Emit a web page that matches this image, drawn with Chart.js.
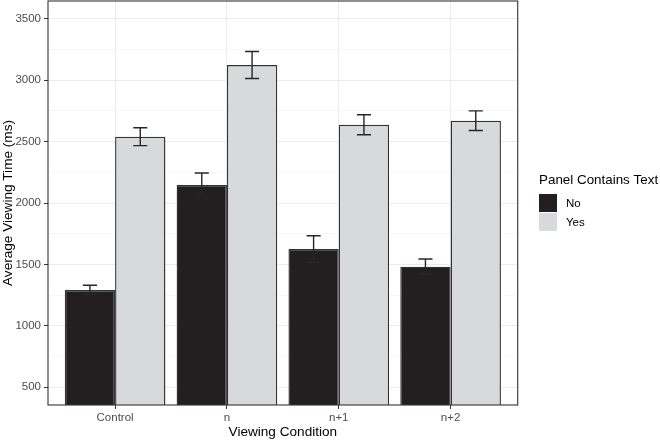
<!DOCTYPE html>
<html>
<head>
<meta charset="utf-8">
<script src="https://cdn.jsdelivr.net/npm/chart.js@4/dist/chart.umd.min.js"></script>
<style>
  html, body { margin: 0; padding: 0; background: #ffffff; }
  #wrap { width: 660px; height: 444px; position: relative; }
</style>
</head>
<body>
<div id="wrap"><canvas id="c" width="660" height="444"></canvas></div>
<script>
// ---- data ----
const categories = ['Control', 'n', 'n+1', 'n+2'];
const seriesNames = ['No', 'Yes'];
const noValues  = [1292, 2147, 1626, 1482];
const noErrors  = [38, 97, 108, 62];
const yesValues = [2540, 3123, 2637, 2670];
const yesErrors = [73, 110, 81, 80];
const yMajorTicks = [500, 1000, 1500, 2000, 2500, 3000, 3500];
const yMinorTicks = [750, 1250, 1750, 2250, 2750, 3250];
const legendTitle = 'Panel Contains Text';
const xTitle = 'Viewing Condition';
const yTitle = 'Average Viewing Time (ms)';

const FONT = "'Liberation Sans', Arial, Helvetica, sans-serif";
const noColor = '#231f20';
const yesColor = '#d8d9db';
const errors = [noErrors, yesErrors];

const errorBarPlugin = {
  id: 'errorBars',
  afterDatasetsDraw(chart) {
    const ctx = chart.ctx;
    const y = chart.scales.y;
    const area = chart.chartArea;
    ctx.save();
    ctx.beginPath();
    ctx.rect(area.left, area.top, area.right - area.left, area.bottom - area.top);
    ctx.clip();
    ctx.strokeStyle = '#262626';
    ctx.lineWidth = 1.4;
    chart.data.datasets.forEach((ds, di) => {
      const meta = chart.getDatasetMeta(di);
      meta.data.forEach((bar, i) => {
        const v = ds.data[i].y;
        const e = errors[di][i];
        const x = bar.x;
        const yt = y.getPixelForValue(v + e);
        const yb = y.getPixelForValue(v - e);
        const half = bar.width * 0.14;
        ctx.beginPath();
        ctx.moveTo(x, yt); ctx.lineTo(x, yb);
        ctx.moveTo(x - half, yt); ctx.lineTo(x + half, yt);
        ctx.moveTo(x - half, yb); ctx.lineTo(x + half, yb);
        ctx.stroke();
      });
    });
    ctx.restore();
  }
};

const panelPlugin = {
  id: 'panel',
  afterDraw(chart) {
    const ctx = chart.ctx;
    const a = chart.chartArea;
    ctx.save();
    ctx.strokeStyle = '#333333';
    ctx.lineWidth = 1.1;
    ctx.strokeRect(a.left, a.top, a.right - a.left, a.bottom - a.top);

    // legend
    const lx = 539;
    ctx.fillStyle = '#000000';
    ctx.font = '13.4px ' + FONT;
    ctx.textAlign = 'left';
    ctx.textBaseline = 'middle';
    ctx.fillText(legendTitle, lx, 180);
    const fills = [noColor, yesColor];
    seriesNames.forEach((name, i) => {
      const top = 194 + i * 19;
      ctx.fillStyle = fills[i];
      ctx.fillRect(lx, top, 18, 18);
      ctx.fillStyle = '#000000';
      ctx.font = '11.5px ' + FONT;
      ctx.fillText(name, 566, top + 9.5);
    });
    ctx.restore();
  }
};

new Chart(document.getElementById('c'), {
  type: 'bar',
  data: {
    datasets: [
      {
        label: seriesNames[0],
        data: noValues.map((v, i) => ({ x: i, y: v })),
        backgroundColor: noColor,
        borderColor: '#333333',
        borderWidth: 1.4
      },
      {
        label: seriesNames[1],
        data: yesValues.map((v, i) => ({ x: i, y: v })),
        backgroundColor: yesColor,
        borderColor: '#333333',
        borderWidth: 1.4
      }
    ]
  },
  plugins: [errorBarPlugin, panelPlugin],
  options: {
    responsive: false,
    animation: false,
    events: [],
    layout: { padding: { top: 1, right: 142.3, left: 0, bottom: 0 } },
    datasets: { bar: { categoryPercentage: 0.9, barPercentage: 1.0 } },
    plugins: { legend: { display: false }, tooltip: { enabled: false } },
    scales: {
      x: {
        type: 'linear',
        min: -0.6,
        max: 3.6,
        offset: false,
        afterBuildTicks(scale) { scale.ticks = categories.map((c, i) => ({ value: i })); },
        afterFit(scale) { scale.height = 39; scale.paddingLeft = 0; scale.paddingRight = 0; },
        ticks: {
          callback: (v) => categories[v] !== undefined ? categories[v] : '',
          color: '#4d4d4d',
          font: { family: FONT, size: 11.5 },
          padding: 2,
          maxRotation: 0,
          autoSkip: false
        },
        grid: {
          offset: false,
          color: '#ebebeb',
          lineWidth: 1,
          tickLength: 4,
          tickColor: '#333333',
          tickWidth: 1
        },
        border: { display: false },
        title: {
          display: true,
          text: xTitle,
          color: '#000000',
          font: { family: FONT, size: 13.6, lineHeight: 1.2 },
          padding: { top: 0, bottom: 3.2 }
        }
      },
      y: {
        type: 'linear',
        min: 356,
        max: 3644,
        afterBuildTicks(scale) {
          scale.ticks = yMajorTicks.concat(yMinorTicks).sort((a, b) => a - b).map(v => ({ value: v }));
        },
        afterFit(scale) { scale.width = 48; scale.paddingTop = 0; scale.paddingBottom = 0; },
        ticks: {
          callback: (v) => yMajorTicks.includes(v) ? String(v) : '',
          color: '#4d4d4d',
          font: { family: FONT, size: 11.5 },
          padding: 3,
          autoSkip: false
        },
        grid: {
          color: (c) => (c.tick && yMajorTicks.includes(c.tick.value)) ? '#ebebeb' : '#f4f4f4',
          lineWidth: (c) => (c.tick && yMajorTicks.includes(c.tick.value)) ? 1 : 0.7,
          tickLength: 4,
          tickColor: (c) => (c.tick && yMajorTicks.includes(c.tick.value)) ? '#333333' : 'rgba(0,0,0,0)',
          tickWidth: 1
        },
        border: { display: false },
        title: {
          display: true,
          text: yTitle,
          color: '#000000',
          font: { family: FONT, size: 13.6, lineHeight: 1.2 },
          padding: { top: 0.5, bottom: 0 }
        }
      }
    }
  }
});
</script>
</body>
</html>
